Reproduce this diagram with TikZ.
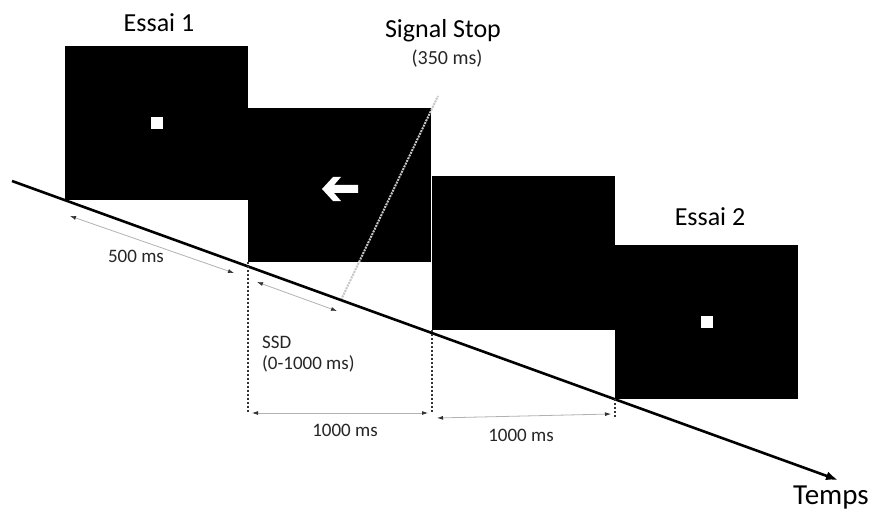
\documentclass[tikz,border=0pt]{standalone}
\usepackage{fontspec}
\setmainfont{Carlito}
\usetikzlibrary{arrows.meta,positioning}

\tikzset{
  screen/.style={fill=black, inner sep=0pt, minimum width=183pt, minimum height=154pt, anchor=north west},
  fixpt/.style={fill=white, inner sep=0pt, minimum size=12pt},
  span/.style={draw=gray!60, line width=0.8pt, {Latex[length=6pt,width=4pt,black!80]}-{Latex[length=6pt,width=4pt,black!80]}},
  guide/.style={dotted, line width=2pt, black!80},
  biglabel/.style={font=\fontsize{26}{30}\selectfont, inner sep=0pt, anchor=base},
  smalllabel/.style={font=\fontsize{19}{21}\selectfont, inner sep=0pt, anchor=base, text=black!85},
}

\begin{document}
\begin{tikzpicture}[x=1pt,y=-1pt]
  \useasboundingbox[fill=white] (0,0) rectangle (872,513);
  % the four screens
  \node[screen] (essai1) at (65,46) {};
  \node[screen] (go) at (248,108) {};
  \node[screen] (stop) at (432,176) {};
  \node[screen] (essai2) at (615,245) {};
  \node[fixpt] (fix1) at (essai1.center) {};
  \node[fixpt] (fix2) at (essai2.center) {};
  \coordinate (cue) at (340,189);
  \fill[white, shift={(cue)}] (-18,0) -- (-7,-12) -- (1,-12) -- (-6,-4) -- (18,-4) -- (18,4) -- (-6,4) -- (1,12) -- (-7,12) -- cycle;

  % signal stop
  \coordinate (sigfoot) at (341,300);
  \coordinate (sigtop) at (438,96);
  \draw[densely dotted, line width=2pt, gray!45] (sigfoot) -- (sigtop);

  % time axis
  \coordinate (t0) at (12,181);
  \coordinate (tend) at (838,480);
  \draw[line width=2.6pt, -{Latex[length=12pt,width=9pt]}] (t0) -- (tend);

  % durations
  \coordinate (g1) at (248,413);
  \coordinate (g2) at (432,413);
  \coordinate (g3) at (615,419);
  \draw[guide] (go.south west) -- (g1);
  \draw[guide] (stop.south west) -- (g2);
  \draw[guide] (essai2.south west) -- (g3);
  \coordinate (a1) at (70,216);
  \coordinate (a2) at (234,273);
  \coordinate (s1) at (257,282);
  \coordinate (s2) at (337,311);
  \draw[span] (a1) -- (a2);
  \draw[span] (s1) -- (s2);
  \draw[span] ([xshift=4pt]g1) -- ([xshift=-4pt]g2);
  \draw[span] (437,418) -- ([xshift=-4pt,yshift=5pt]g3);

  % labels
  \node[biglabel] (lblessai1) at (159,32) {Essai 1};
  \node[biglabel] (lblessai2) at (710,225) {Essai 2};
  \node[biglabel] (lblsignal) at (443,38) {Signal Stop};
  \node[smalllabel, font=\fontsize{20}{22}\selectfont] (lbl350) at (447,65) {(350 ms)};
  \node[biglabel, font=\fontsize{29}{33}\selectfont, anchor=base east] (lbltemps) at (869,504) {Temps};
  \node[smalllabel] (lbl500) at (136,262) {500 ms};
  \node[smalllabel, anchor=base west] (lblssd) at (262,348) {SSD};
  \node[smalllabel, anchor=base west] (lblssdrange) at (262,369) {(0-1000 ms)};
  \node[smalllabel] (lbl1000a) at (345,436) {1000 ms};
  \node[smalllabel] (lbl1000b) at (521,441) {1000 ms};
\end{tikzpicture}
\end{document}
